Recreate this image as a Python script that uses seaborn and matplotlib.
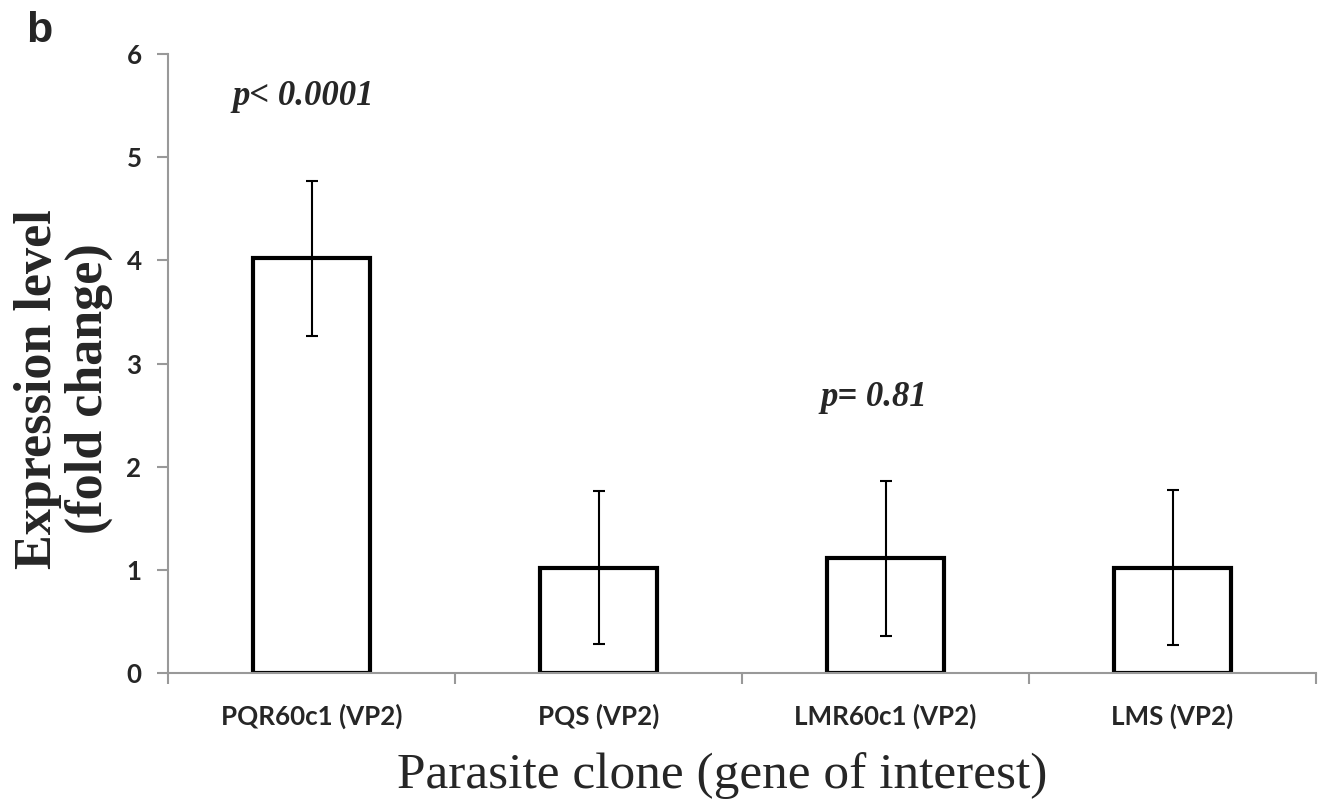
import pandas as pd
import numpy as np
import matplotlib
matplotlib.use("Agg")
import matplotlib.pyplot as plt
from matplotlib.font_manager import FontProperties
import seaborn as sns

# values
clones = ["PQR60c1 (VP2)", "PQS (VP2)", "LMR60c1 (VP2)", "LMS (VP2)"]
fold_change = [4.02, 1.02, 1.11, 1.02]
err = [0.75, 0.74, 0.75, 0.75]
yticks = [0, 1, 2, 3, 4, 5, 6]

df = pd.DataFrame({"clone": clones, "fold": fold_change})

sns.set_style("white")
fig = plt.figure(figsize=(13.26, 8.06), dpi=100)
ax = fig.add_axes([0.1267, 0.165, 0.8658, 0.768])

sns.barplot(data=df, x="clone", y="fold", order=clones, color="white",
            edgecolor="black", linewidth=3.0, width=0.41, errorbar=None, ax=ax)
ax.errorbar(np.arange(len(clones)), fold_change, yerr=err, fmt="none",
            ecolor="black", elinewidth=1.5, capsize=4.5, capthick=1.5)

ax.set_xlim(-0.5, len(clones) - 0.5)
ax.set_ylim(0, 6)
ax.set_yticks(yticks)
for s in ["top", "right"]:
    ax.spines[s].set_visible(False)
for s in ["left", "bottom"]:
    ax.spines[s].set_color("#999999")
    ax.spines[s].set_linewidth(1.5)

# tick label size: make "PQR60c1 (VP2)" about 181 px wide like the original
fig.canvas.draw()
rend = fig.canvas.get_renderer()
w10 = rend.get_text_width_height_descent(
    clones[0], FontProperties(family="Lato", weight="bold", size=10), ismath=False)[0]
tick_size = 10 * 181 / w10

# ticks on the x axis sit between categories
ax.set_xticks(np.arange(len(clones) + 1) - 0.5, minor=True)
ax.tick_params(axis="x", which="major", bottom=True, length=0, pad=22)
ax.tick_params(axis="x", which="minor", bottom=True, direction="out", length=8,
               width=1.5, color="#999999")
ax.tick_params(axis="y", left=True, direction="out", length=8, width=1.5,
               color="#999999", pad=11)
for lab in ax.get_xticklabels() + ax.get_yticklabels():
    lab.set_fontfamily("Lato")
    lab.set_fontweight("bold")
    lab.set_fontsize(tick_size)

ax.set_xlabel("Parasite clone (gene of interest)", fontfamily="Liberation Serif",
              fontsize=37, labelpad=13)
ax.xaxis.set_label_coords(0.483, -0.128)
ax.xaxis.label.set_va("top")
ax.set_ylabel("Expression level\n(fold change)", fontfamily="Liberation Serif",
              fontweight="bold", fontsize=37.5, linespacing=1.08)
ax.yaxis.set_label_coords(-0.048, 0.459)

ax.text(-0.03, 5.59, "p< 0.0001", ha="center", va="center", fontfamily="Liberation Serif",
        fontstyle="italic", fontweight="bold", fontsize=25)
ax.text(1.96, 2.67, "p= 0.81", ha="center", va="center", fontfamily="Liberation Serif",
        fontstyle="italic", fontweight="bold", fontsize=25)
fig.text(0.02, 0.986, "b", fontfamily="Liberation Sans", fontweight="bold", fontsize=31,
         ha="left", va="top")

fig.savefig("out.png", dpi=100)
